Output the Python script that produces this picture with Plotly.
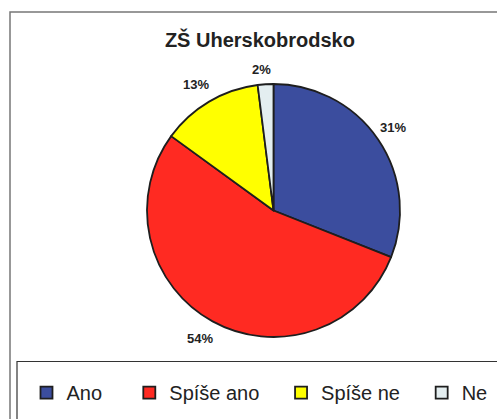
import math
import plotly.graph_objects as go

title_text = "ZŠ Uherskobrodsko"
categories = ["Ano", "Spíše ano", "Spíše ne", "Ne"]
values = [31, 54, 13, 2]
colors = ["#3B4D9E", "#FF2A22", "#FFFF00", "#E4EEF0"]

W, H = 497, 419
FONT = "Liberation Sans, Arial, Helvetica, sans-serif"

# pie placement (pixels)
cx, cy, r = 273.5, 210.5, 126.5
dom_x = [(cx - r) / W, (cx + r) / W]
dom_y = [1 - (cy + r) / H, 1 - (cy - r) / H]

# legend labels with trailing space to mimic the original entry spacing
pad_counts = [4, 3, 3, 0]
legend_labels = [c + "\u00a0" * n for c, n in zip(categories, pad_counts)]

fig = go.Figure()
fig.add_trace(go.Pie(
    labels=legend_labels,
    values=values,
    sort=False,
    direction="clockwise",
    rotation=0,
    marker=dict(colors=colors, line=dict(color="#1E1E1E", width=1.8)),
    textinfo="none",
    domain=dict(x=dom_x, y=dom_y),
    hoverinfo="label+percent",
))

# percentage labels placed outside each slice, derived from the values
total = sum(values)
annotations = []
cum = 0.0
for v in values:
    frac = v / total
    mid = (cum + frac / 2) * 2 * math.pi
    cum += frac
    s, c = math.sin(mid), -math.cos(mid)
    txt = f"{round(frac * 100)}%"
    hw = 4.4 * len(txt)
    hh = 7
    d = r + 7 + abs(s) * hw + abs(c) * hh
    px, py = cx + d * s - 3, cy + d * c
    annotations.append(dict(
        x=px / W, y=1 - py / H, xref="paper", yref="paper",
        text="<b>" + txt + "</b>", showarrow=False,
        xanchor="center", yanchor="middle",
        font=dict(family=FONT, size=13, color="#222222"),
    ))

fig.update_layout(
    width=W, height=H,
    margin=dict(l=0, r=0, t=0, b=0, autoexpand=False),
    paper_bgcolor="white",
    plot_bgcolor="white",
    title=dict(text="<b>" + title_text + "</b>", x=0.523, xanchor="center", y=0.905, yanchor="middle",
               font=dict(family=FONT, size=20, color="#222222")),
    showlegend=True,
    legend=dict(orientation="h", x=0.0533, xanchor="left", y=0.063, yanchor="middle",
                font=dict(family=FONT, size=20, color="#222222"),
                itemwidth=30, tracegroupgap=0, bgcolor="rgba(0,0,0,0)"),
    annotations=annotations,
    shapes=[
        dict(type="rect", xref="paper", yref="paper", x0=10 / W, x1=1.02, y0=-0.05, y1=1 - 12 / H,
             line=dict(color="#777777", width=1.5)),
        dict(type="rect", xref="paper", yref="paper", x0=17 / W, x1=1.02, y0=-0.05, y1=1 - 361.5 / H,
             line=dict(color="#333333", width=1.2)),
    ],
)

fig.write_html("out.html", config={"displayModeBar": False},
               post_script="document.body.style.margin='0';")
